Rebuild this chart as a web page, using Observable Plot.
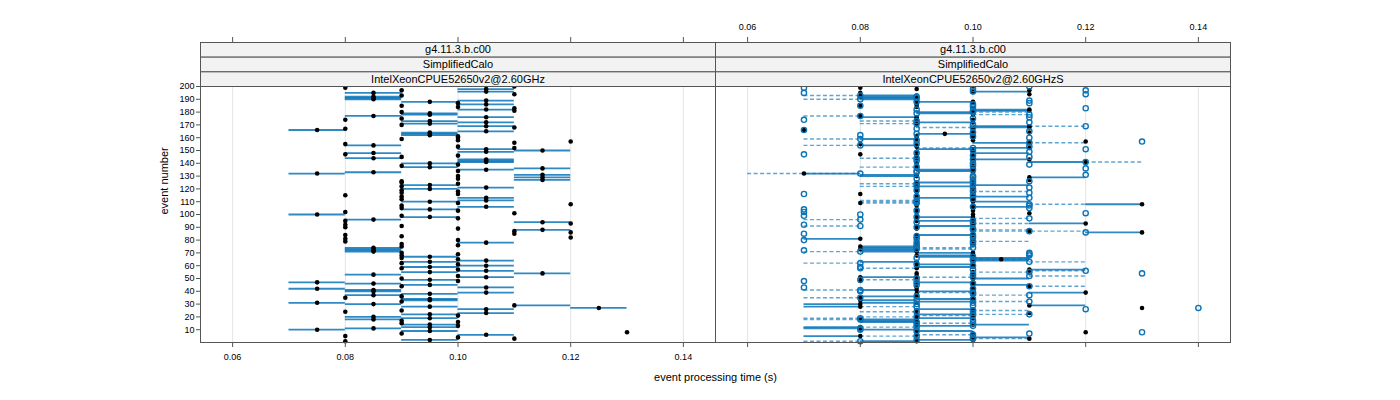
<!DOCTYPE html>
<html><head><meta charset="utf-8">
<script src="https://cdn.jsdelivr.net/npm/d3@7"></script>
<script src="https://cdn.jsdelivr.net/npm/@observablehq/plot@0.6"></script>
<style>body{margin:0;background:#fff}#chart{width:1400px;height:400px}</style>
</head><body><div id="chart"></div>
<script>
// ---------- data (times in milliseconds) ----------
const panels = ["left", "right"];
const stripTop = ["g4.11.3.b.c00", "g4.11.3.b.c00"];
const stripMid = ["SimplifiedCalo", "SimplifiedCalo"];
const stripBot = ["IntelXeonCPUE52650v2@2.60GHz", "IntelXeonCPUE52650v2@2.60GHzS"];
const xTicks = [0.06, 0.08, 0.10, 0.12, 0.14];
const yTicks = [10,20,30,40,50,60,70,80,90,100,110,120,130,140,150,160,170,180,190,200];
const events = d3.range(1, 201);

// left panel: median and range
const leftMed = [80,95,110,100,80,105,90,130,95,75, 85,95,100,95,90,100,90,85,95,85,
 100,95,105,80,90,105,125,95,110,85, 75,90,95,95,80,90,85,95,105,85,
 85,75,105,90,95,85,75,100,95,90, 105,100,85,115,95,105,100,90,95,105,
 100,90,95,105,100,90,95,90,100,90, 85,85,85,85,90,100,90,105,80,100,
 80,120,90,80,110,120,110,115,100,80, 90,80,120,115,80,85,100,95,90,75,
 110,80,100,95,90,105,90,120,100,95, 105,90,105,90,80,100,90,100,90,95,
 105,90,95,100,90,90,115,100,115,100, 115,75,85,100,105,115,95,90,100,95,
 105,105,105,85,90,100,80,85,105,115, 105,110,100,85,80,110,120,100,90,100,
 100,95,95,95,105,75,80,110,105,90, 95,105,95,80,90,105,85,95,95,90,
 110,105,110,100,90,105,100,95,105,85, 85,85,90,110,85,105,90,105,80,110];
const leftLo = [80,90,110,100,80,100,90,130,90,70, 80,90,100,90,90,100,90,80,90,80,
 100,90,100,80,90,100,120,90,110,80, 70,90,90,90,80,90,80,90,100,80,
 80,70,100,90,90,80,70,100,90,90, 100,100,80,110,90,100,100,90,90,100,
 100,90,90,100,100,90,90,90,100,90, 80,80,80,80,90,100,90,100,80,100,
 80,120,90,80,110,120,110,110,100,80, 90,80,120,110,80,80,100,90,90,70,
 110,80,100,90,90,100,90,120,100,90, 100,90,100,90,80,100,90,100,90,90,
 100,90,90,100,90,90,110,100,110,100, 110,70,80,100,100,110,90,90,100,90,
 100,100,100,80,90,100,80,80,100,110, 100,110,100,80,80,110,120,100,90,100,
 100,90,90,90,100,70,80,110,100,90, 90,100,90,80,90,100,80,90,90,90,
 110,100,110,100,90,100,100,90,100,80, 80,80,90,110,80,100,90,100,80,110];
const leftHi = [80,100,110,100,80,110,90,130,100,80, 90,100,100,100,90,100,90,90,100,90,
 100,100,110,80,90,110,130,100,120,90, 80,90,100,100,80,90,90,100,110,90,
 90,80,110,90,100,90,80,100,100,90, 110,100,90,120,100,110,100,90,100,110,
 100,90,100,110,100,90,100,90,100,90, 90,90,90,90,90,100,90,110,80,100,
 80,120,90,80,110,120,110,120,100,80, 90,80,120,120,80,90,100,100,90,80,
 110,80,100,100,90,110,90,120,100,100, 110,90,110,90,80,100,90,100,90,100,
 110,90,100,100,90,90,120,100,120,100, 120,80,90,100,110,120,100,90,100,100,
 110,110,110,90,90,100,80,90,110,120, 110,110,100,90,80,110,120,100,90,100,
 100,100,100,100,110,80,80,110,110,90, 100,110,100,80,90,110,90,100,100,90,
 110,110,110,100,90,110,100,100,110,90, 90,90,90,110,90,110,90,110,80,110];

// right panel, series A (filled dots, solid ranges)
const rAmed = [90,100,110,100,80,90,100,120,90,80, 80,80,90,100,90,90,90,80,100,90,
 100,90,110,100,90,100,130,80,110,80, 90,100,80,100,80,90,100,90,120,100,
 90,100,90,110,100,90,100,80,90,100, 80,90,100,90,100,110,110,90,100,90,
 100,90,90,100,105,100,100,90,100,100, 90,90,80,90,80,100,90,100,90,100,
 80,90,100,90,100,130,110,100,90,100, 90,100,120,100,90,100,90,100,90,100,
 110,90,100,90,100,100,90,130,80,100, 90,100,90,100,90,80,100,90,100,90,
 100,90,100,90,90,100,110,100,110,90, 90,70,100,100,100,90,100,90,100,90,
 120,100,110,90,100,90,80,100,90,100, 100,110,90,90,80,110,120,100,90,100,
 90,100,95,110,100,70,100,110,110,90, 90,100,90,100,90,90,80,100,100,100,
 110,110,100,90,80,90,100,100,90,90, 90,80,90,110,80,100,110,90,80,100];
const rAlo = [80,90,110,100,70,90,100,120,90,80, 70,70,90,100,90,80,80,80,90,90,
 100,90,110,100,90,90,130,70,110,70, 80,90,80,90,80,80,100,90,110,90,
 80,100,90,110,100,90,90,80,90,100, 80,90,100,90,100,110,110,90,90,90,
 90,90,80,100,100,100,90,90,100,90, 80,80,80,80,80,100,90,100,90,100,
 70,90,100,90,100,120,110,100,90,100, 90,100,110,100,90,100,90,90,90,100,
 110,90,100,90,100,100,90,120,80,100, 90,100,90,100,90,80,100,90,100,90,
 100,90,100,90,90,100,110,100,110,80, 80,70,100,90,90,90,100,90,100,90,
 110,100,100,90,100,90,80,100,90,100, 90,100,90,80,80,100,120,100,80,100,
 90,100,90,110,100,70,100,100,100,90, 90,90,90,100,90,80,80,100,90,90,
 100,100,100,90,80,90,100,90,90,80, 80,80,80,110,80,100,110,90,80,100];
const rAhi = [90,100,110,110,80,90,100,120,100,90, 80,80,100,110,90,90,90,90,100,90,
 100,100,110,100,90,100,130,80,120,80, 90,100,90,100,80,90,100,90,120,100,
 90,100,90,110,110,90,100,80,90,110, 90,90,100,90,100,110,120,90,100,90,
 100,90,90,110,110,110,100,100,100,100, 90,90,90,90,90,100,90,100,90,100,
 80,90,100,100,100,130,110,100,90,100, 100,100,120,100,100,100,90,100,90,100,
 110,90,100,90,100,110,90,130,80,110, 90,100,100,110,90,80,100,90,100,90,
 100,100,110,90,100,100,110,100,120,90, 90,80,100,100,100,90,100,90,100,90,
 120,100,110,90,100,90,80,110,90,100, 100,110,90,90,80,110,120,100,90,100,
 90,100,100,110,100,70,100,110,110,90, 90,100,90,100,90,90,80,100,100,100,
 110,110,100,90,80,90,100,100,90,90, 90,90,90,110,80,110,110,90,80,100];

// right panel, series B (open circles, dashed ranges)
const rBmed = [80,90,100,100,90,100,110,130,90,80, 80,90,100,90,100,90,100,80,80,90,
 100,110,100,90,100,120,140,90,100,90, 100,110,90,100,80,90,110,100,100,80,
 80,100,70,110,90,100,90,70,80,90, 100,110,100,130,110,120,100,80,80,100,
 90,80,110,100,100,90,100,110,110,110, 80,70,90,100,90,90,100,90,100,70,
 90,100,90,100,70,120,110,100,100,90, 80,70,100,90,100,80,110,90,70,80,
 120,70,90,70,110,100,110,110,90,90, 90,100,110,90,100,70,110,100,90,100,
 110,90,100,90,100,110,100,90,100,100, 120,80,90,90,100,120,90,100,110,100,
 120,90,100,90,110,100,70,90,110,100, 120,100,110,80,90,110,130,90,80,110,
 100,80,90,100,110,70,90,100,120,100, 90,110,90,70,100,110,80,110,90,100,
 100,90,120,100,80,100,110,90,110,80, 90,90,80,120,70,100,120,100,70,110];
const rBlo = [70,90,100,100,80,90,110,130,90,80, 80,80,100,90,90,90,100,70,70,80,
 90,100,100,80,100,120,140,80,100,90, 100,100,90,100,70,90,100,100,90,80,
 70,100,70,110,90,100,90,70,80,90, 90,110,100,130,100,110,100,80,80,100,
 90,70,110,100,100,90,100,110,110,110, 70,70,90,90,90,90,100,90,100,70,
 90,100,90,100,70,120,100,100,100,90, 70,70,100,90,100,70,100,90,70,80,
 120,70,90,70,110,100,110,110,80,80, 80,100,110,90,100,70,110,100,90,100,
 110,80,100,80,100,110,100,90,100,100, 120,60,90,90,100,120,80,100,110,100,
 120,90,100,80,110,100,70,90,110,100, 120,90,110,70,90,110,130,90,70,110,
 100,80,90,100,110,70,90,90,110,100, 80,110,80,70,100,110,70,100,90,100,
 100,90,120,100,80,100,110,90,110,70, 90,90,70,120,70,100,120,100,70,110];
const rBhi = [80,90,110,100,90,100,110,130,90,80, 80,90,100,90,100,90,100,80,80,90,
 100,110,100,90,110,120,140,90,100,90, 100,110,90,100,80,90,110,100,100,80,
 80,100,70,120,90,100,90,70,90,90, 100,120,100,130,110,120,100,90,80,100,
 90,80,120,100,110,90,100,110,110,110, 80,70,100,100,90,90,100,90,110,70,
 90,100,90,100,70,120,120,110,100,90, 80,70,110,90,100,80,110,90,70,80,
 120,70,90,70,110,100,110,120,90,90, 90,100,110,90,100,70,110,110,90,100,
 110,90,100,90,100,110,100,90,100,100, 120,80,90,90,100,120,90,100,110,100,
 130,90,100,90,110,100,70,90,110,100, 120,100,110,80,90,120,130,90,80,110,
 100,80,90,100,110,70,90,100,120,100, 90,110,90,70,100,110,80,110,90,110,
 100,90,120,100,80,100,110,90,110,80, 90,90,80,120,70,100,120,100,70,110];

// ---------- tables ----------
const mk = (panel, med, lo, hi) => events.map((e, i) => ({panel, event: e, med: med[i] / 1000, lo: lo[i] / 1000, hi: hi[i] / 1000}));
const leftRows = mk("left", leftMed, leftLo, leftHi);
const rightA = mk("right", rAmed, rAlo, rAhi);
const rightB = mk("right", rBmed, rBlo, rBhi);
const strips = panels.map((p, i) => ({panel: p, top: stripTop[i], mid: stripMid[i], bot: stripBot[i]}));

// ---------- layout ----------
const W = 1400, H = 400, ML = 199, MR = 170, MT = 86, MB = 58;
const FH = H - MT - MB;      // panel height
const SH = 44 / 3;           // strip height
const BLUE = "#0a74b8";
const EDGE = "#555555";
const fmt = d => d.toFixed(2);

const chart = Plot.plot({
  width: W, height: H,
  marginLeft: ML, marginRight: MR, marginTop: MT, marginBottom: MB,
  style: {fontFamily: "'Liberation Sans', Arial, sans-serif", fontSize: "9px", background: "white", color: "black"},
  fx: {domain: panels, padding: 0, axis: null, label: null},
  x: {domain: [0.0543, 0.1457], axis: null},
  y: {domain: [0, 200], axis: null},
  marks: [
    // grid
    Plot.ruleX(xTicks, {x: d => d, stroke: "#e4e4e4", strokeWidth: 1}),
    // ranges
    Plot.ruleY(leftRows.filter(d => d.hi > d.lo), {fx: "panel", y: "event", x1: "lo", x2: "hi", stroke: BLUE, strokeWidth: 1.8, strokeOpacity: 0.85}),
    Plot.ruleY(rightB.filter(d => d.hi > d.lo), {fx: "panel", y: "event", x1: "lo", x2: "hi", stroke: BLUE, strokeWidth: 1.4, strokeOpacity: 0.65, strokeDasharray: "4,2.5"}),
    Plot.ruleY(rightA.filter(d => d.hi > d.lo), {fx: "panel", y: "event", x1: "lo", x2: "hi", stroke: BLUE, strokeWidth: 1.8, strokeOpacity: 0.85}),
    // points
    Plot.dot(leftRows, {fx: "panel", x: "med", y: "event", r: 2.3, fill: "black", stroke: "none"}),
    Plot.dot(rightA, {fx: "panel", x: "med", y: "event", r: 2.3, fill: "black", stroke: "none"}),
    Plot.dot(rightB, {fx: "panel", x: "med", y: "event", r: 2.6, fill: "none", stroke: BLUE, strokeWidth: 1.4}),
    // panel border
    Plot.frame({stroke: EDGE, strokeWidth: 1}),
    // strips
    Plot.frame({fill: "#f2f2f2", stroke: EDGE, insetTop: -3 * SH, insetBottom: FH + 2 * SH}),
    Plot.frame({fill: "#f2f2f2", stroke: EDGE, insetTop: -2 * SH, insetBottom: FH + SH}),
    Plot.frame({fill: "#f2f2f2", stroke: EDGE, insetTop: -SH, insetBottom: FH}),
    Plot.text(strips, {fx: "panel", text: "top", frameAnchor: "top", lineAnchor: "middle", dy: -2.5 * SH, fontSize: 11}),
    Plot.text(strips, {fx: "panel", text: "mid", frameAnchor: "top", lineAnchor: "middle", dy: -1.5 * SH, fontSize: 11}),
    Plot.text(strips, {fx: "panel", text: "bot", frameAnchor: "top", lineAnchor: "middle", dy: -0.5 * SH, fontSize: 11}),
    // x ticks: bottom and top of every panel
    Plot.ruleX(xTicks, {x: d => d, insetTop: FH, insetBottom: -5, stroke: EDGE}),
    Plot.ruleX(xTicks, {x: d => d, insetTop: -3 * SH - 5, insetBottom: FH + 3 * SH, stroke: EDGE}),
    // x tick labels alternate: bottom on left panel, top on right panel
    Plot.text(xTicks, {x: d => d, fx: () => "left", frameAnchor: "bottom", lineAnchor: "middle", dy: 15, text: fmt, fontSize: 9}),
    Plot.text(xTicks, {x: d => d, fx: () => "right", frameAnchor: "top", lineAnchor: "middle", dy: -3 * SH - 15, text: fmt, fontSize: 9}),
    // y axis
    Plot.axisY(yTicks, {anchor: "left", tickSize: 4, tickPadding: 2, fontSize: 9, label: null, stroke: EDGE}),
    // axis titles
    Plot.text(["event number"], {fx: () => "left", frameAnchor: "left", lineAnchor: "middle", dx: -36, rotate: -90, fontSize: 11}),
    Plot.text(["event processing time (s)"], {fx: () => "left", frameAnchor: "bottom-right", lineAnchor: "middle", dy: 35, textAnchor: "middle", fontSize: 11})
  ]
});
document.getElementById("chart").appendChild(chart);
</script>
</body></html>
